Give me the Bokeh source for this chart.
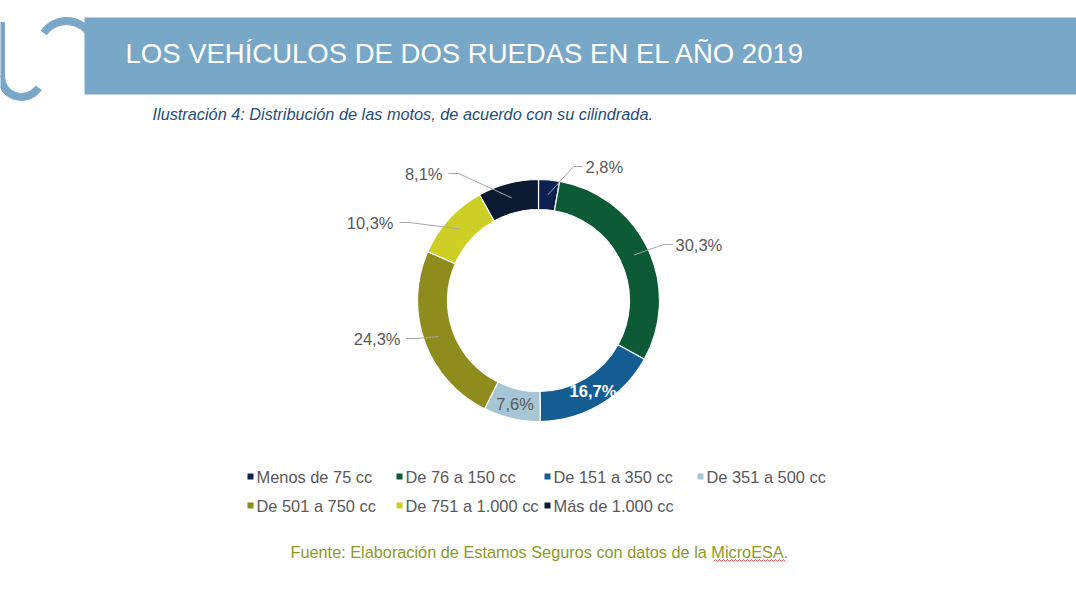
import numpy as np
from bokeh.plotting import figure
from bokeh.models import Range1d, ColumnDataSource
from bokeh.core.properties import value
from bokeh.embed import file_html
from bokeh.resources import INLINE

# ---------------- data ----------------
categories = ["Menos de 75 cc", "De 76 a 150 cc", "De 151 a 350 cc", "De 351 a 500 cc",
              "De 501 a 750 cc", "De 751 a 1.000 cc", "Más de 1.000 cc"]
shares = [2.8, 30.3, 16.7, 7.6, 24.3, 10.3, 8.1]
share_labels = ["2,8%", "30,3%", "16,7%", "7,6%", "24,3%", "10,3%", "8,1%"]
slice_colors = ["#0c2150", "#0c5a36", "#145d92", "#a6c6d6", "#8d8c1d", "#cdcf26", "#0b1a30"]

title_text = "LOS VEHÍCULOS DE DOS RUEDAS EN EL AÑO 2019"
subtitle_text = "Ilustración 4: Distribución de las motos, de acuerdo con su cilindrada."
source_text = "Fuente: Elaboración de Estamos Seguros con datos de la MicroESA."

# ---------------- layout ----------------
FONT = value("Liberation Sans")
GRAY = "#595959"
BAND = "#78a7c7"


def Y(y):
    # convert a top-down page coordinate to the plot's upward y
    return 600 - y


CX, CY = 538, Y(300)
R_IN, R_OUT = 91, 121
R_MID = 106

# label layout: (kind, text x, text y, align)
LABEL_LAYOUT = [
    ("out", 585, 166, "left"),
    ("out", 675, 244, "left"),
    ("in", None, None, "center"),
    ("in", None, None, "center"),
    ("out", 400, 338, "right"),
    ("out", 393, 222, "right"),
    ("out", 442, 173, "right"),
]
IN_LABEL_COLORS = {2: "white", 3: GRAY}

LEGEND_COLS = [247, 396, 544, 697]
LEGEND_ROWS = [476, 505]

p = figure(width=1076, height=600, x_range=Range1d(0, 1076), y_range=Range1d(0, 600),
           output_backend="svg", toolbar_location=None,
           x_axis_location=None, y_axis_location=None, min_border=0)
p.grid.visible = False
p.outline_line_color = None
p.background_fill_color = "white"
p.border_fill_color = "white"

# ---------------- header band + logo ----------------
# "u"
p.annular_wedge(x=21, y=Y(76), inner_radius=17, outer_radius=24,
                start_angle=np.pi, end_angle=2 * np.pi - 0.6, color=BAND)
p.quad(left=-3, right=4, top=Y(22), bottom=Y(76), color=BAND)
# "n"
p.annular_wedge(x=66, y=Y(48), inner_radius=24, outer_radius=31,
                start_angle=0, end_angle=np.deg2rad(145), color=BAND)
p.quad(left=84, right=1080, top=Y(17), bottom=Y(94), color=BAND, line_color=None)

p.text(x=[125], y=[Y(53)], text=[title_text], text_color="white", text_font=FONT,
       text_font_size="27.5px", text_baseline="middle", text_align="left")
p.text(x=[152], y=[Y(113)], text=[subtitle_text], text_color="#1f4e79", text_font=FONT,
       text_font_size="16.3px", text_font_style="italic", text_baseline="middle")

# ---------------- donut ----------------
frac = np.array(shares) / sum(shares)
cum = np.concatenate([[0.0], np.cumsum(frac)])
start = np.pi / 2 - 2 * np.pi * cum[:-1]
end = np.pi / 2 - 2 * np.pi * cum[1:]
mid = (start + end) / 2

src = ColumnDataSource(dict(start=start, end=end, color=slice_colors, cat=categories))
p.annular_wedge(x=CX, y=CY, inner_radius=R_IN, outer_radius=R_OUT,
                start_angle="start", end_angle="end", direction="clock",
                fill_color="color", line_color="white", line_width=1.2, source=src)

# labels and leader lines
for i, (kind, tx, ty, align) in enumerate(LABEL_LAYOUT):
    sx = CX + R_MID * np.cos(mid[i])
    sy = CY + R_MID * np.sin(mid[i])
    if kind == "in":
        col = IN_LABEL_COLORS[i]
        p.text(x=[sx], y=[sy], text=[share_labels[i]], text_color=col, text_font=FONT,
               text_font_size="16.5px", text_align="center", text_baseline="middle",
               text_font_style="bold" if col == "white" else "normal")
        continue
    if align == "left":
        ex = tx - 3
        kx = ex - 9
    else:
        ex = tx + 6
        kx = ex + 10
    p.line(x=[sx, kx, ex], y=[sy, Y(ty), Y(ty)], line_color="#a6a6a6", line_width=1)
    p.text(x=[tx], y=[Y(ty)], text=[share_labels[i]], text_color=GRAY, text_font=FONT,
           text_font_size="16.5px", text_align=align, text_baseline="middle")

# ---------------- legend ----------------
for i, cat in enumerate(categories):
    lx = LEGEND_COLS[i % 4]
    ly = LEGEND_ROWS[i // 4]
    p.scatter(x=[lx + 3], y=[Y(ly)], marker="square", size=6,
              fill_color=slice_colors[i], line_color=None)
    p.text(x=[lx + 9], y=[Y(ly)], text=[cat], text_color=GRAY, text_font=FONT,
           text_font_size="16.4px", text_baseline="middle")

# ---------------- source ----------------
p.text(x=[290], y=[Y(551)], text=[source_text], text_color="#8c9a2a", text_font=FONT,
       text_font_size="16.3px", text_baseline="middle")
# spell-check squiggle under "MicroESA"
sq_x = np.arange(713, 786, 2.0)
sq_y = Y(560) + np.where(np.arange(sq_x.size) % 2 == 0, -1.0, 1.0)
p.line(x=sq_x, y=sq_y, line_color="#d9302c", line_width=0.8)

open("out.html", "w").write(file_html(p, INLINE))
